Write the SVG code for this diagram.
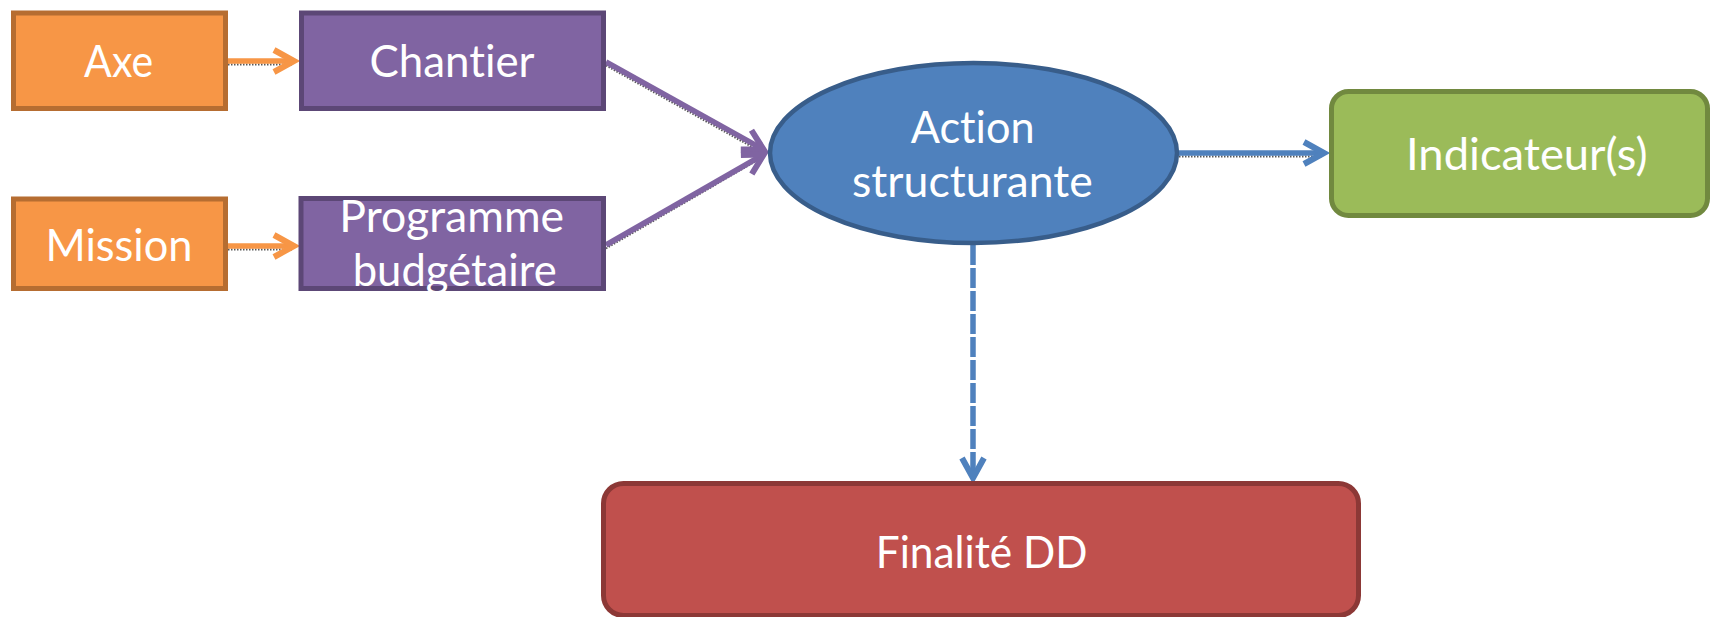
<svg xmlns="http://www.w3.org/2000/svg" width="1711" height="617" viewBox="0 0 1711 617">
<style>
.t{font-family:Lato,"Open Sans","Liberation Sans",sans-serif;font-size:44px;fill:#ffffff;text-anchor:middle;font-variant-ligatures:none;font-feature-settings:"liga" 0,"clig" 0}
.or{fill:#f79646;stroke:#b66d31;stroke-width:5}
.pu{fill:#8064a2;stroke:#5c4776;stroke-width:5}
.bl{fill:#4f81bd;stroke:#385d8a;stroke-width:4.5}
.gr{fill:#9bbb59;stroke:#71893f;stroke-width:5}
.rd{fill:#c0504d;stroke:#8c3836;stroke-width:5}
.sh{fill:none;stroke:#222;stroke-width:2;stroke-dasharray:1.5 1.5;opacity:0.75}
.co{fill:none;stroke-width:5.5}
</style>
<defs>
<marker id="mo" markerUnits="userSpaceOnUse" orient="auto" markerWidth="40" markerHeight="40" viewBox="-30 -20 40 40" refX="0" refY="0" overflow="visible"><path d="M-20,-11 L0,0 L-20,11" fill="none" stroke="#f79646" stroke-width="6"/></marker>
<marker id="mp" markerUnits="userSpaceOnUse" orient="auto" markerWidth="40" markerHeight="40" viewBox="-30 -20 40 40" refX="0" refY="0" overflow="visible"><path d="M-20,-11 L0,0 L-20,11" fill="none" stroke="#8064a2" stroke-width="6"/></marker>
<marker id="mb" markerUnits="userSpaceOnUse" orient="auto" markerWidth="40" markerHeight="40" viewBox="-30 -20 40 40" refX="0" refY="0" overflow="visible"><path d="M-20,-11 L0,0 L-20,11" fill="none" stroke="#4f81bd" stroke-width="6"/></marker>
<clipPath id="cpb"><rect x="296" y="194" width="313" height="97"/></clipPath>
</defs>

<g id="connectors">
<line class="sh" x1="228" y1="64.5" x2="292" y2="64.5"/>
<line class="sh" x1="228" y1="249.5" x2="292" y2="249.5"/>
<line class="sh" x1="606" y1="65.5" x2="762" y2="152.5"/>
<line class="sh" x1="606" y1="248.5" x2="762" y2="157.5"/>
<line class="sh" x1="1179" y1="156.5" x2="1322" y2="156.5"/>
<line class="co" stroke="#f79646" x1="228" y1="61" x2="294" y2="61" marker-end="url(#mo)"/>
<line class="co" stroke="#f79646" x1="228" y1="246" x2="294" y2="246" marker-end="url(#mo)"/>
<line class="co" stroke="#8064a2" x1="606" y1="62" x2="763.6" y2="149.6" marker-end="url(#mp)"/>
<line class="co" stroke="#8064a2" x1="606" y1="245" x2="763.7" y2="154.5" marker-end="url(#mp)"/>
<line class="co" stroke="#4f81bd" x1="1179" y1="153" x2="1324" y2="153" marker-end="url(#mb)"/>
<line class="co" stroke="#4f81bd" stroke-width="4.5" stroke-dasharray="20 3" x1="973" y1="245" x2="973" y2="478" marker-end="url(#mb)"/>
</g>

<g id="axe">
<rect class="or" x="13.5" y="13" width="212" height="95.5"/>
<text class="t" x="118.6" y="77" textLength="69" lengthAdjust="spacingAndGlyphs">Axe</text>
</g>
<g id="chantier">
<rect class="pu" x="301.5" y="13" width="302" height="95.5"/>
<text class="t" x="452" y="77" textLength="165" lengthAdjust="spacingAndGlyphs">Chantier</text>
</g>
<g id="mission">
<rect class="or" x="13.5" y="199" width="212" height="89.5"/>
<text class="t" x="119" y="261" textLength="147" lengthAdjust="spacingAndGlyphs">Mission</text>
</g>
<g id="programme">
<rect class="pu" x="301" y="198.5" width="302.5" height="90"/>
<g clip-path="url(#cpb)">
<text class="t" x="451.7" y="231.7" textLength="224.7" lengthAdjust="spacingAndGlyphs">Programme</text>
<text class="t" x="454.7" y="285.5" textLength="204" lengthAdjust="spacingAndGlyphs">budgétaire</text>
</g>
</g>
<g id="action">
<ellipse class="bl" cx="973.5" cy="153" rx="203.5" ry="90"/>
<text class="t" x="972.7" y="143.3" textLength="124" lengthAdjust="spacingAndGlyphs">Action</text>
<text class="t" x="972.4" y="197.3" textLength="240.7" lengthAdjust="spacingAndGlyphs">structurante</text>
</g>
<g id="indicateurs">
<rect class="gr" x="1331.5" y="91.5" width="376" height="124" rx="17" ry="17"/>
<text class="t" x="1526.8" y="170" textLength="241.6" lengthAdjust="spacingAndGlyphs">Indicateur(s)</text>
</g>
<g id="finalite">
<rect class="rd" x="603.5" y="483.5" width="755" height="132" rx="20" ry="20"/>
<text class="t" x="981.6" y="568" textLength="211.7" lengthAdjust="spacingAndGlyphs">Finalité DD</text>
</g>
</svg>
